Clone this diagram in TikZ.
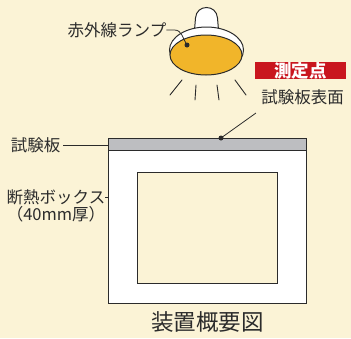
\documentclass[tikz,border=0pt]{standalone}
\usepackage{fontspec}
\setmainfont{Noto Sans CJK JP}
\usetikzlibrary{positioning}
\definecolor{paper}{HTML}{FBF3D6}
\definecolor{ink}{HTML}{2B2B2B}
\definecolor{lampy}{HTML}{F1B52A}
\definecolor{plate}{HTML}{BDBEC1}
\definecolor{mark}{HTML}{C9161E}
\tikzset{
  lbl/.style={font=\fontsize{16.5}{19}\selectfont,text=ink,inner sep=0pt},
  lead/.style={draw=ink,line width=0.8pt},
  wall/.style={draw=ink,line width=1.2pt,inner sep=0pt,anchor=north west},
  ray/.style={draw=ink,line width=0.9pt,line cap=round},
  tag/.style={fill=mark,text=white,font=\fontsize{17.5}{19}\selectfont\bfseries,minimum width=91pt,minimum height=17pt,inner sep=0pt}}

\begin{document}
\begin{tikzpicture}[x=1pt,y=-1pt]
\fill[paper] (0,0) rectangle (351,338);
\useasboundingbox (0,0) rectangle (351,338);

% lamp: cap, rim and reflector
\draw[ink,line width=1pt,fill=white] (194.5,30) -- (195.5,18) .. controls (196.5,4) and (216.5,4) .. (217.5,18) -- (218.5,30);
\draw[ink,line width=1pt,fill=white] (206.5,50) ellipse [x radius=37, y radius=23];
\draw[ink,line width=1pt,fill=lampy] (206,55) ellipse [x radius=36, y radius=20];
\foreach \xa/\ya/\xb/\yb in {182/80/170/95, 196/85/195/100, 217/85/219/100, 235/80/246/95}
  \draw[ray] (\xa,\ya) -- (\xb,\yb);

\node[lbl] (lamplabel) at (117,30) {赤外線ランプ};
\coordinate (lampdot) at (187,45);
\draw[lead] (lamplabel.east) -- ++(8,0) to[out=0,in=125] (lampdot);
\fill[ink] (lampdot) circle (2.5);

% measuring point
\node[tag] (mpoint) at (300.5,70.5) {測定点};
\node[lbl,below=10pt of mpoint,xshift=2pt] (surflabel) {試験板表面};
\coordinate (surftip) at (256,113);
\coordinate (surfdot) at (221,138);
\draw[lead] (surftip) -- (surfdot);

% insulated box with test plate on top
\node[wall,fill=white,minimum width=198pt,minimum height=165pt] (box) at (108,138) {};
\node[wall,fill=plate,minimum width=198pt,minimum height=12pt] (plate) at (box.north west) {};
\node[wall,fill=paper,minimum width=140pt,minimum height=111pt] (cavity) at (137,172) {};
\fill[ink] (surfdot) circle (2.5);

\node[lbl] (platelabel) at (35.5,145) {試験板};
\draw[lead] ([xshift=3pt]platelabel.east) -- (platelabel.east -| box.west);
\node[lbl] (boxlabel) at (56,197) {断熱ボックス};
\node[lbl,below=1pt of boxlabel] (boxthick) {（40mm厚）};
\draw[lead] (boxlabel.east) -- (boxlabel.east -| box.west);

\node[font=\fontsize{22.5}{26}\selectfont,text=ink,inner sep=0pt] (title) at (207.5,322) {装置概要図};
\end{tikzpicture}
\end{document}
